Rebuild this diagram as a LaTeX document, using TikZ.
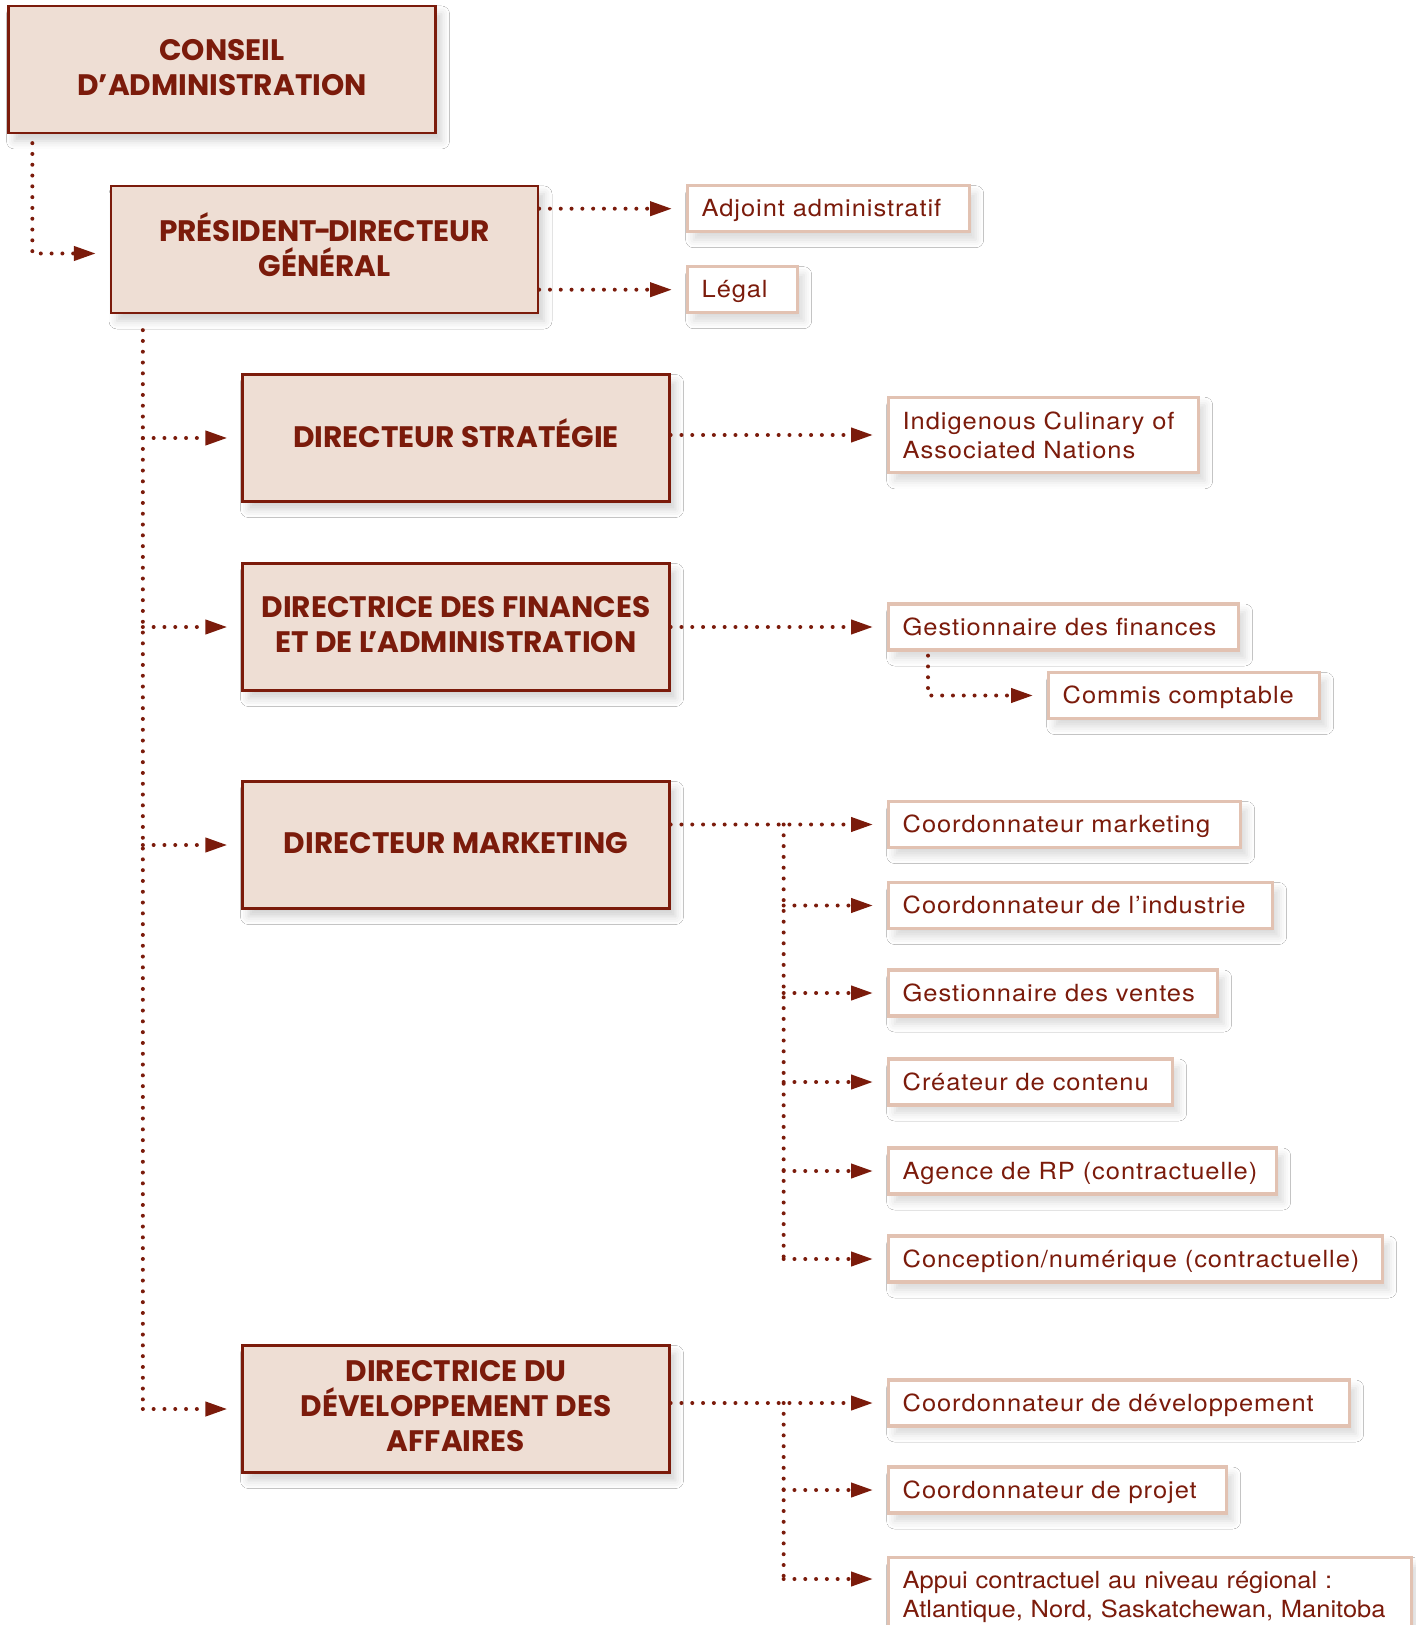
\documentclass[tikz,border=0pt]{standalone}
\usepackage{fontspec}
\usepackage{tikz}
\usetikzlibrary{arrows.meta,shadows.blur}
\newfontfamily\headfont{Poppins}
\newfontfamily\bodyfont{TeX Gyre Heros}[LetterSpace=4,FakeStretch=1.08]
\newfontfamily\bodytight{TeX Gyre Heros}[FakeStretch=1.08]
\definecolor{ICANred}{HTML}{7B1B0B}
\definecolor{ICANsand}{HTML}{EEDED4}
\definecolor{ICANline}{HTML}{E2C2B2}
\tikzstyle{headbox} = [rectangle,
minimum width=213.5pt,
minimum height=63.5pt,
align=center,
draw=ICANred,
line width=1.15pt,
fill=ICANsand,
text=ICANred,
font=\headfont\bfseries\fontsize{14.8}{17.5}\selectfont,
execute at end node={\rule[-2.5pt]{0pt}{2.5pt}},
blur shadow={shadow xshift=3pt, shadow yshift=-4pt, shadow blur radius=4pt, shadow opacity=18}]
\tikzstyle{subbase} = [rectangle,
anchor=west,
minimum height=23pt,
inner xsep=7pt,
align=left,
draw=ICANline,
line width=1.65pt,
fill=white,
text=ICANred,
font=\bodyfont\fontsize{11.8}{14.5}\selectfont,
blur shadow={shadow xshift=3pt, shadow yshift=-4pt, shadow blur radius=4pt, shadow opacity=15}]
\tikzstyle{subbox} = [subbase, text height=9.5pt, text depth=1.5pt]
\tikzstyle{dotline} = [draw=ICANred, line width=2pt, line cap=round, dash pattern=on 0pt off 5.4pt]
\tikzstyle{arrow} = [dotline, -{Triangle[length=11pt,width=7pt]}, shorten >=7pt]

\begin{document}
\begin{tikzpicture}[x=0.5pt,y=-0.5pt]
    \fill[white] (0,0) rectangle (1415,1625);
    \useasboundingbox (0,0) rectangle (1415,1625);

    \node[headbox] (conseil) at (222,69.5) {CONSEIL\\D’ADMINISTRATION};
    \node[headbox, execute at end node={\rule[-5pt]{0pt}{5pt}}] (pdg) at (324.5,249.5) {PRÉSIDENT\kern-1.5pt-\kern-1.5pt DIRECTEUR\\GÉNÉRAL};
    \node[headbox, execute at end node={\rule[-5pt]{0pt}{5pt}}] (strat) at (456,438) {DIRECTEUR STRATÉGIE};
    \node[headbox] (fin) at (456,627) {DIRECTRICE DES FINANCES\\ET DE L\kern-2.5pt’ADMINISTRATION};
    \node[headbox] (mkt) at (456,845) {DIRECTEUR MARKETING};
    \node[headbox, execute at end node={\rule[-3.5pt]{0pt}{3.5pt}}] (dev) at (456,1409) {DIRECTRICE DU\\DÉVELOPPEMENT DES\\AFFAIRES};

    \node[subbox, text width=127pt] (adjoint) at (686,208.7) {Adjoint administratif};
    \node[subbox, text width=41pt] (legal) at (686,289.7) {Légal};
    \node[subbase, text width=141pt, minimum height=37.8pt] (icon) at (887,435) {Indigenous Culinary of\\Associated Nations};
    \node[subbox, text width=161pt] (gestfin) at (887,627) {Gestionnaire des finances};
    \node[subbox, text width=121.5pt] (commis) at (1047,695.5) {Commis comptable};
    \node[subbox, text width=162pt] (cmkt) at (887,824.5) {Coordonnateur marketing};
    \node[subbox, text width=178pt] (cind) at (887,905.5) {Coordonnateur de l’industrie};
    \node[subbox, text width=150.5pt] (gvent) at (887,993) {Gestionnaire des ventes};
    \node[subbox, text width=128pt] (ccont) at (887,1082) {Créateur de contenu};
    \node[subbox, text width=180pt] (arp) at (887,1171) {Agence de RP (contractuelle)};
    \node[subbox, text width=233pt] (cnum) at (887,1259) {Conception/numérique (contractuelle)};
    \node[subbox, text width=216.5pt] (cdev) at (887,1403) {Coordonnateur de développement};
    \node[subbox, text width=155pt] (cproj) at (887,1490) {Coordonnateur de projet};
    \node[subbase, text width=247.5pt, minimum height=39pt, anchor=north west,
          font=\bodytight\fontsize{11.8}{14.5}\selectfont] (appui) at (887,1556) {Appui contractuel au niveau régional :\\Atlantique, Nord, Saskatchewan, Manitoba};

    \coordinate (trunk) at ([xshift=16.5pt,yshift=-8pt]pdg.south west);
    \coordinate (mkttrunk) at ([xshift=56.5pt]mkt.east |- cmkt);
    \coordinate (devtrunk) at ([xshift=56.5pt]dev.east |- cdev);
    \coordinate (appuiin) at ([yshift=-11.5pt]appui.north west);

    \draw[arrow] ([xshift=12.5pt,yshift=-4.5pt]conseil.south west) |- ([yshift=-2pt]pdg.west);
    \draw[arrow] (pdg.east |- adjoint) -- (adjoint);
    \draw[arrow] (pdg.east |- legal) -- (legal);
    \draw[dotline] (trunk) -- (trunk |- dev);
    \foreach \n in {strat,fin,mkt,dev}
        \draw[arrow] (trunk |- \n) -- (\n);
    \draw[arrow] (strat.east |- icon) -- (icon);
    \draw[arrow] (fin.east |- gestfin) -- (gestfin);
    \draw[arrow] ([xshift=20.5pt,yshift=-2pt]gestfin.south west) |- (commis);
    \draw[arrow] (mkt.east |- cmkt) -- (cmkt);
    \draw[dotline] (mkttrunk) -- (mkttrunk |- cnum);
    \foreach \n in {cind,gvent,ccont,arp,cnum}
        \draw[arrow] (mkttrunk |- \n) -- (\n);
    \draw[arrow] (dev.east |- cdev) -- (cdev);
    \draw[dotline] (devtrunk) -- (devtrunk |- appuiin);
    \draw[arrow] (devtrunk |- cproj) -- (cproj);
    \draw[arrow] (devtrunk |- appuiin) -- (appuiin);
\end{tikzpicture}
\end{document}
